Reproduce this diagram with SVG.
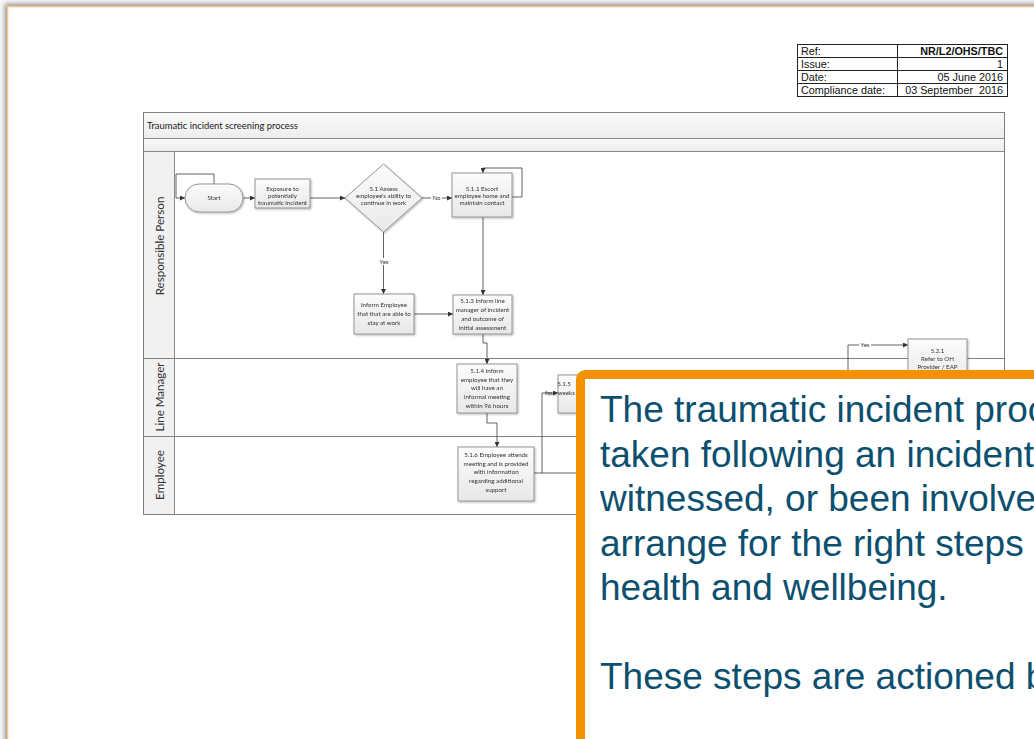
<svg xmlns="http://www.w3.org/2000/svg" width="1034" height="739" viewBox="0 0 1034 739">
  <style>
    .frame { fill: none; stroke: #808080; stroke-width: 1; }
    .bar { fill: url(#barFill); stroke: #8a8a8a; stroke-width: 1; }
    .lanehead { fill: #f1f1f1; stroke: #8a8a8a; stroke-width: 1; }
    .node { fill: url(#nodeFill); stroke: #8c8c8c; stroke-width: 0.9; }
    .ntext { font-family: Lato, "Liberation Sans", sans-serif; font-size: 6.2px; fill: #333; text-anchor: middle; }
    .lane { font-family: Lato, "Liberation Sans", sans-serif; font-size: 11.6px; fill: #333; text-anchor: middle; }
    .conn { fill: none; stroke: #3a3a3a; stroke-width: 0.8; }
    .arr { marker-end: url(#arrow); }
    .clabel { font-family: Lato, "Liberation Sans", sans-serif; font-size: 6px; fill: #333; text-anchor: middle; }
    .ref { font-family: "Liberation Sans", Arial, sans-serif; font-size: 10.8px; fill: #111; }
    .callout { font-family: "Liberation Sans", Arial, sans-serif; font-size: 37px; fill: #0c4f6f; }
  </style>
  <defs>
    <filter id="pageShadow" x="-5%" y="-5%" width="110%" height="110%">
      <feGaussianBlur stdDeviation="2.5"/>
    </filter>
    <filter id="nodeShadow" x="-10%" y="-10%" width="130%" height="130%">
      <feGaussianBlur in="SourceAlpha" stdDeviation="0.8"/>
      <feOffset dx="1" dy="1" result="b"/>
      <feComponentTransfer><feFuncA type="linear" slope="0.3"/></feComponentTransfer>
      <feMerge><feMergeNode/><feMergeNode in="SourceGraphic"/></feMerge>
    </filter>
    <linearGradient id="nodeFill" x1="0" y1="0" x2="0" y2="1">
      <stop offset="0" stop-color="#fcfcfc"/>
      <stop offset="1" stop-color="#e8e8e8"/>
    </linearGradient>
    <linearGradient id="barFill" x1="0" y1="0" x2="0" y2="1">
      <stop offset="0" stop-color="#fafafa"/>
      <stop offset="1" stop-color="#ededed"/>
    </linearGradient>
    <marker id="arrow" viewBox="0 0 10 10" refX="10" refY="5" markerWidth="5" markerHeight="5" markerUnits="userSpaceOnUse" orient="auto">
      <path d="M0,0 L10,5 L0,10 z" fill="#333"/>
    </marker>
  </defs>

  <!-- page with soft shadow -->
  <rect x="0" y="0" width="1034" height="739" fill="#f7f7f7"/>
  <rect x="5" y="4" width="1100" height="800" fill="#8a8a8a" filter="url(#pageShadow)"/>
  <rect x="7.5" y="6.5" width="1100" height="800" fill="#ffffff" stroke="#f5c18b" stroke-width="1.5"/>

  <!-- document reference table -->
  <g id="ref-table">
    <rect x="797.5" y="44.5" width="210" height="52" fill="#fff" stroke="#222" stroke-width="1"/>
    <line x1="897.5" y1="44.5" x2="897.5" y2="96.5" stroke="#222" stroke-width="1"/>
    <line x1="797.5" y1="57.5" x2="1007.5" y2="57.5" stroke="#222" stroke-width="1"/>
    <line x1="797.5" y1="70.5" x2="1007.5" y2="70.5" stroke="#222" stroke-width="1"/>
    <line x1="797.5" y1="83.5" x2="1007.5" y2="83.5" stroke="#222" stroke-width="1"/>
    <text class="ref" x="801" y="54.5">Ref:</text>
    <text class="ref" x="801" y="67.5">Issue:</text>
    <text class="ref" x="801" y="80.5">Date:</text>
    <text class="ref" x="801" y="93.5">Compliance date:</text>
    <text class="ref" x="1003" y="54.5" text-anchor="end" font-weight="bold">NR/L2/OHS/TBC</text>
    <text class="ref" x="1003" y="67.5" text-anchor="end">1</text>
    <text class="ref" x="1003" y="80.5" text-anchor="end">05 June 2016</text>
    <text class="ref" x="1003" y="93.5" text-anchor="end" xml:space="preserve">03 September  2016</text>
  </g>

  <!-- swimlane frame -->
  <g id="swimlanes">
    <rect class="bar" x="143.5" y="112.5" width="861" height="26"/>
    <rect class="bar" x="143.5" y="138.5" width="861" height="13"/>
    <rect class="lanehead" x="143.5" y="151.5" width="31" height="363"/>
    <rect class="frame" x="143.5" y="112.5" width="861" height="402"/>
    <line class="frame" x1="143.5" y1="358.5" x2="1004.5" y2="358.5"/>
    <line class="frame" x1="143.5" y1="436.5" x2="1004.5" y2="436.5"/>
    <text x="147" y="129" font-family="Lato, 'Liberation Sans', sans-serif" font-size="9.4px" fill="#222">Traumatic incident screening process</text>
    <text class="lane" transform="translate(164,246) rotate(-90)">Responsible Person</text>
    <text class="lane" transform="translate(164,397) rotate(-90)">Line Manager</text>
    <text class="lane" transform="translate(164,475) rotate(-90)">Employee</text>
  </g>

  <!-- connectors -->
  <g id="connectors">
    <path class="conn arr" d="M214,184 V174 H176 V198 H185"/>
    <path class="conn arr" d="M243,198 H255"/>
    <path class="conn arr" d="M310,198 H345"/>
    <path class="conn arr" d="M422,198 H452"/>
    <rect x="431" y="194" width="11" height="7" fill="#fff"/>
    <text class="clabel" x="436.5" y="200">No</text>
    <path class="conn arr" d="M512,197 H522 V168 H483 V173"/>
    <path class="conn arr" d="M383.5,232 V294"/>
    <rect x="378" y="258" width="12" height="7" fill="#fff"/>
    <text class="clabel" x="384" y="264">Yes</text>
    <path class="conn arr" d="M483,217 V295"/>
    <path class="conn arr" d="M414,314 H453"/>
    <path class="conn arr" d="M483,334 V343 H487 V364"/>
    <path class="conn arr" d="M487,413 V423 H497 V447"/>
    <path class="conn" d="M534,473 H590"/>
    <path class="conn arr" d="M542,473 V393 H558"/>
    <path class="conn arr" d="M848,400 V345 H908"/>
    <rect x="859" y="341" width="12" height="7" fill="#fff"/>
    <text class="clabel" x="865" y="347">Yes</text>
  </g>

  <g id="start" filter="url(#nodeShadow)">
    <rect class="node" x="185" y="184" width="58" height="28" rx="14"/>
    <text class="ntext" x="214" y="200">Start</text>
  </g>

  <g id="exposure" filter="url(#nodeShadow)">
    <rect class="node" x="255" y="179" width="55" height="29"/>
    <text class="ntext" x="282.5" y="190.5">Exposure to</text>
    <text class="ntext" x="282.5" y="197.7">potentially</text>
    <text class="ntext" x="282.5" y="204.7">traumatic incident</text>
  </g>

  <g id="assess" filter="url(#nodeShadow)">
    <polygon class="node" points="383.5,164 422,198 383.5,232 345,198"/>
    <text class="ntext" x="383.5" y="190.5">5.1 Assess</text>
    <text class="ntext" x="383.5" y="197.7">employee's ability to</text>
    <text class="ntext" x="383.5" y="204.9">continue in work</text>
  </g>

  <g id="escort" filter="url(#nodeShadow)">
    <rect class="node" x="452" y="173" width="60" height="44"/>
    <text class="ntext" x="482" y="190.8">5.1.1 Escort</text>
    <text class="ntext" x="482" y="197.8">employee home and</text>
    <text class="ntext" x="482" y="204.8">maintain contact</text>
  </g>

  <g id="inform-employee" filter="url(#nodeShadow)">
    <rect class="node" x="354" y="294" width="60" height="40"/>
    <text class="ntext" x="384" y="307">Inform Employee</text>
    <text class="ntext" x="384" y="315.8">that that are able to</text>
    <text class="ntext" x="384" y="324.6">stay at work</text>
  </g>

  <g id="inform-line-manager" filter="url(#nodeShadow)">
    <rect class="node" x="453" y="295" width="59" height="39"/>
    <text class="ntext" x="482.5" y="303">5.1.3 Inform line</text>
    <text class="ntext" x="482.5" y="311.9">manager of incident</text>
    <text class="ntext" x="482.5" y="320.8">and outcome of</text>
    <text class="ntext" x="482.5" y="329.7">initial assessment</text>
  </g>

  <g id="inform-meeting" filter="url(#nodeShadow)">
    <rect class="node" x="457" y="364" width="60" height="49"/>
    <text class="ntext" x="487" y="372.7">5.1.4 Inform</text>
    <text class="ntext" x="487" y="381.5">employee that they</text>
    <text class="ntext" x="487" y="390.3">will have an</text>
    <text class="ntext" x="487" y="399.1">informal meeting</text>
    <text class="ntext" x="487" y="407.9">within 96 hours</text>
  </g>

  <g id="employee-attends" filter="url(#nodeShadow)">
    <rect class="node" x="458" y="447" width="76" height="54"/>
    <text class="ntext" x="496" y="457">5.1.6 Employee attends</text>
    <text class="ntext" x="496" y="465.7">meeting and is provided</text>
    <text class="ntext" x="496" y="474.4">with information</text>
    <text class="ntext" x="496" y="483.1">regarding additional</text>
    <text class="ntext" x="496" y="491.8">support</text>
  </g>

  <g id="four-week-review" filter="url(#nodeShadow)">
    <rect class="node" x="558" y="375" width="60" height="38"/>
    <text class="ntext" x="564" y="386" text-anchor="start">5.1.5</text>
    <text class="ntext" x="560" y="395" text-anchor="start">four weeks</text>
  </g>

  <g id="refer-oh" filter="url(#nodeShadow)">
    <rect class="node" x="908" y="339" width="59" height="47"/>
    <text class="ntext" x="937.5" y="352.7">5.2.1</text>
    <text class="ntext" x="937.5" y="361">Refer to OH</text>
    <text class="ntext" x="937.5" y="369.3">Provider / EAP</text>
  </g>

  <!-- explanatory callout -->
  <g id="callout">
    <rect x="580.5" y="374.5" width="600" height="500" rx="5" fill="#ffffff" stroke="#f39200" stroke-width="9"/>
    <text class="callout" x="600" y="422">The traumatic incident process</text>
    <text class="callout" x="600" y="466.5">taken following an incident</text>
    <text class="callout" x="600" y="511">witnessed, or been involved</text>
    <text class="callout" x="600" y="555.5">arrange for the right steps</text>
    <text class="callout" x="600" y="600">health and wellbeing.</text>
    <text class="callout" x="600" y="689">These steps are actioned by</text>
  </g>
</svg>
